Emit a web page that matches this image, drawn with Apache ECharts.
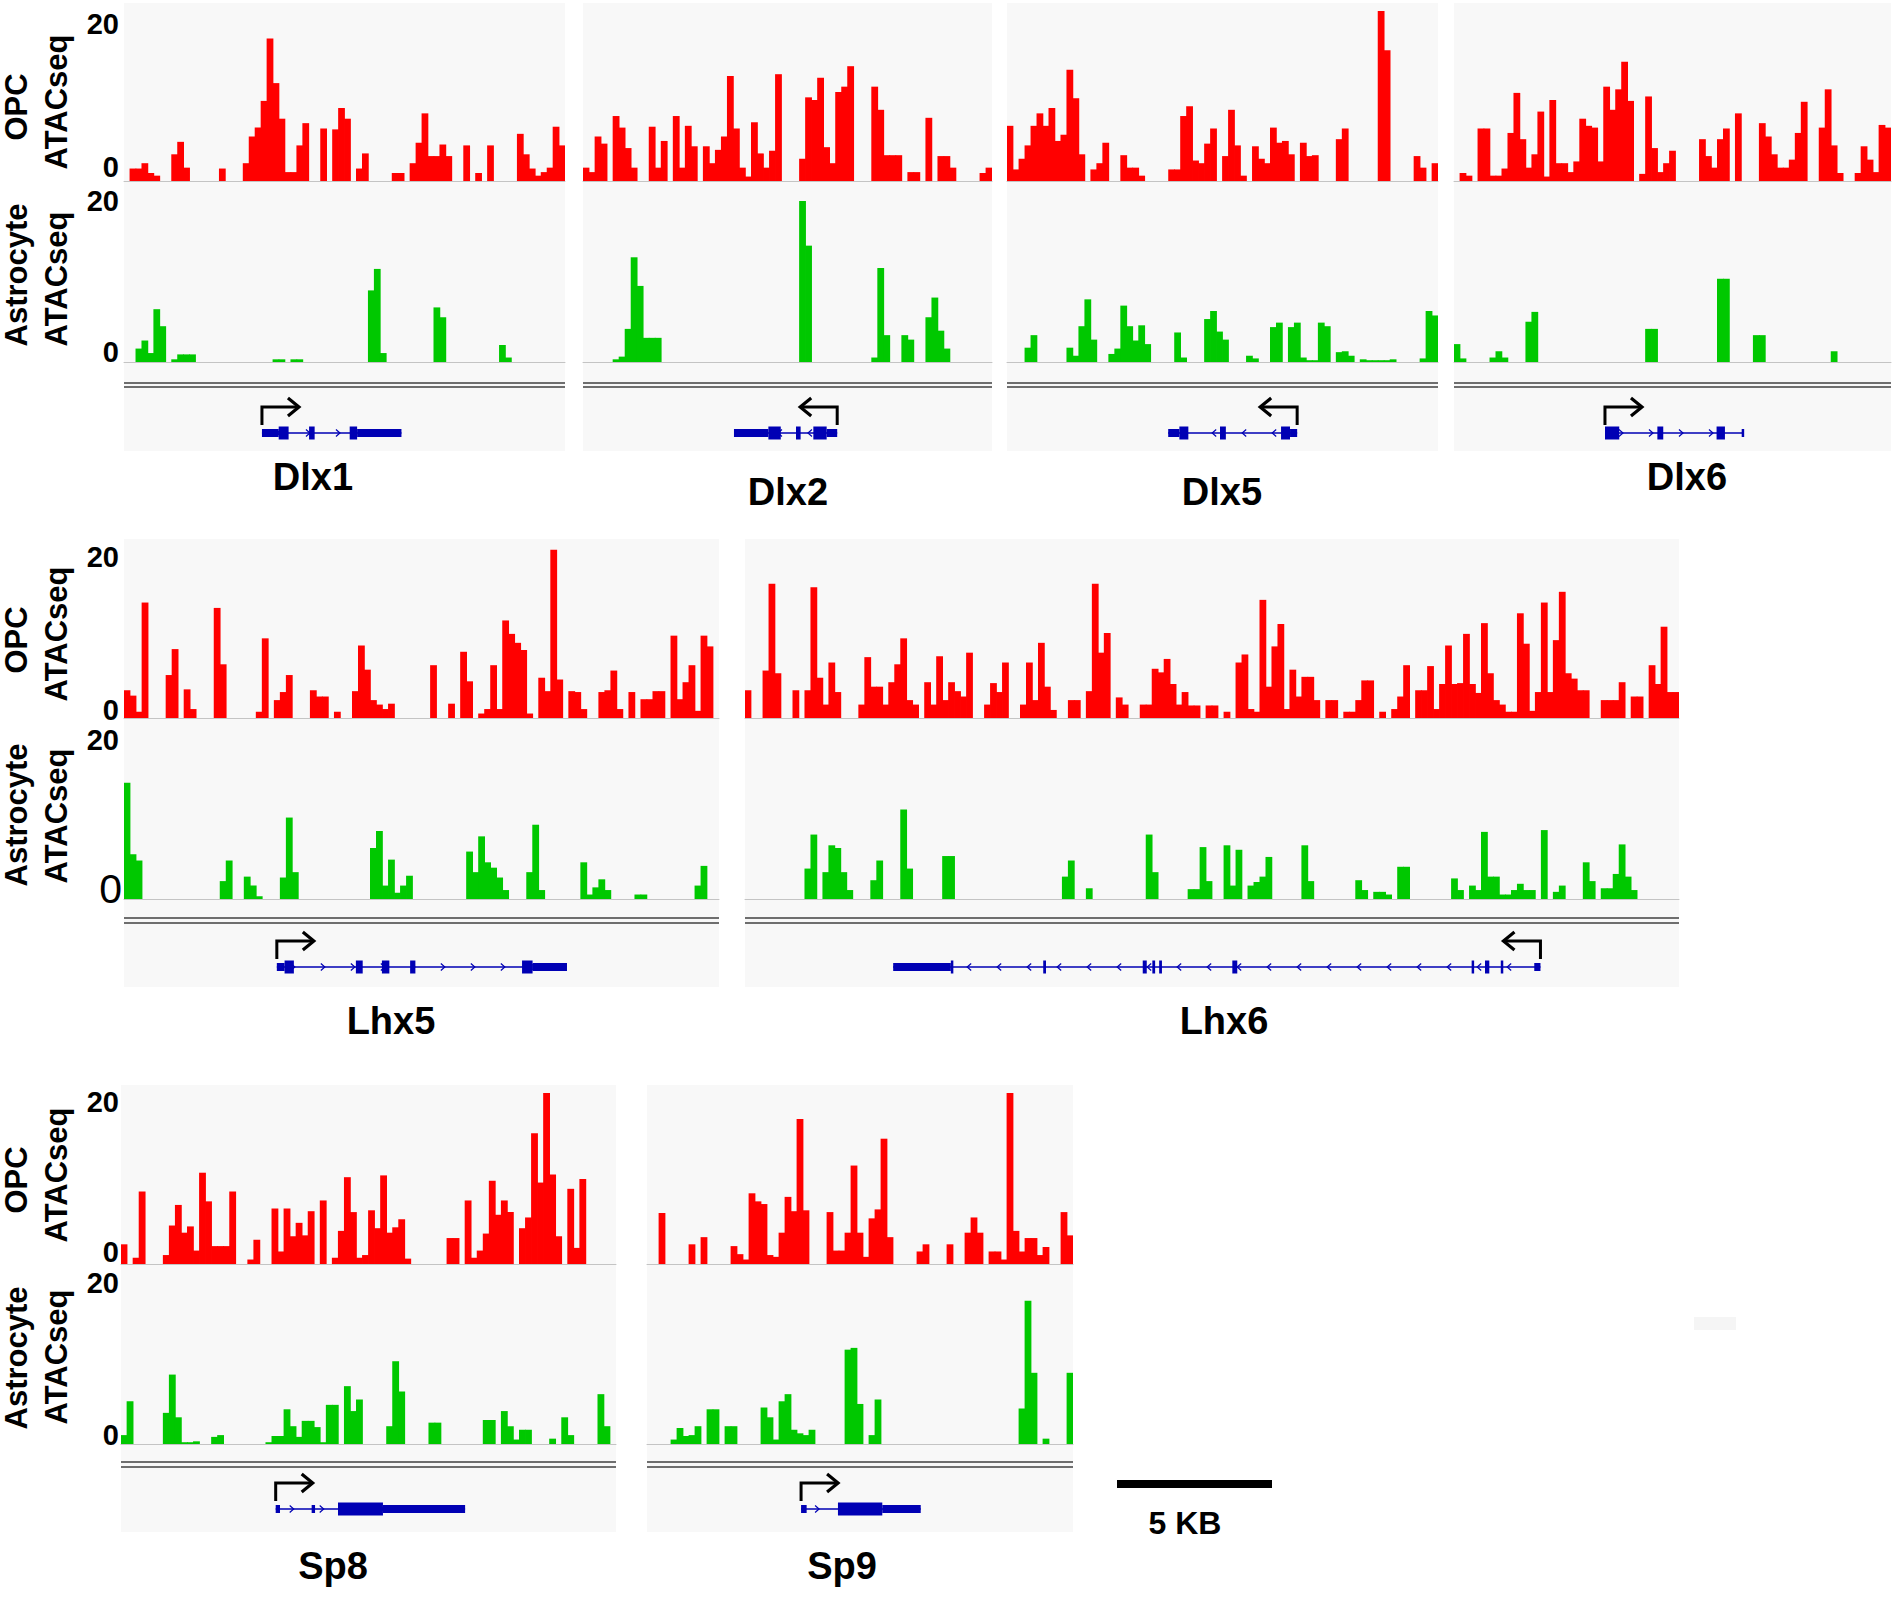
<!DOCTYPE html>
<html><head><meta charset="utf-8">
<script src="https://cdn.jsdelivr.net/npm/echarts@6/dist/echarts.min.js"></script>
<style>html,body{margin:0;padding:0;background:#fff}#c{width:1894px;height:1597px}</style>
</head><body><div id="c"></div>
<script>
// ---------------- DATA ----------------
const geneNames = ['Dlx1','Dlx2','Dlx5','Dlx6','Lhx5','Lhx6','Sp8','Sp9'];
const trackLabelsOPC = ['OPC','ATACseq'];
const trackLabelsAst = ['Astrocyte','ATACseq'];
const yTickLabels = ['20','0'];
const yMax = 20;
const scaleBarKb = 5;
const scaleBarLabel = '5 KB';

const opcDlx1 = [0,1.4,1.4,2,0.9,0.6,0,0,3,4.4, 1.5,0,0,0,0,0,1.4,0,0,0, 2,5,6,9,16,11,7,1,1,4, 6.5,0,0,5.9,0,5.8,8.2,7,0,1.4, 3.1,0,0,0,0,0.9,0.9,0,2,4.3, 7.6,2.8,2.8,4.1,2.8,0,0,4,0,0.9, 0,4,0,0,0,0,5.3,3,1.4,0.6, 1,1.5,6.1,4];
const astDlx1 = [0,0,1.5,2.4,1,5.9,4,0,0.3,0.85, 0.85,0.85,0,0,0,0,0,0,0,0, 0,0,0,0,0,0.3,0.3,0,0.3,0.3, 0,0,0,0,0,0,0,0,0,0, 0,8,10.4,1,0,0,0,0,0,0, 0,0,6.1,5,0,0,0,0,0,0, 0,0,0,1.9,0.5,0,0,0,0,0, 0,0,0,0];

const opcDlx2 = [1.5,1,5,4.2,0,7.3,6,3.7,1.5,0, 0,6.1,1.5,4.5,0,7.3,1.5,6.2,3.9,0, 3.9,2,3.5,5,11.8,5.9,1.5,0.5,6.6,3.1, 1.5,3.4,12,0,0,0,2.5,9.4,9.1,11.6, 3.8,2,10,10.6,12.9,0,0,0,10.6,8, 2.9,2.9,2.9,0,1,1,0,7.1,0,2.8, 2.8,1.5,0,0,0,0,0.9,1.5];
const astDlx2 = [0,0,0,0,0,0.3,0.6,3.7,11.7,8.5, 2.7,2.7,2.7,0,0,0,0,0,0,0, 0,0,0,0,0,0,0,0,0,0, 0,0,0,0,0,0,18,13,0,0, 0,0,0,0,0,0,0,0,0.5,10.5, 3,0,0,3,2.5,0,0,5,7.2,3.5, 1.5,0,0,0,0,0,0,0];

const opcDlx5 = [6.2,1.3,2.5,4,6.2,7.6,6.2,8.2,4.5,5.2, 12.5,9.3,3,0,1.3,2,4.3,0,0,2.9, 1.5,1.5,0.6,0,0,0,0,1.3,1.3,7.3, 8.4,2.3,2,4.2,5.9,0,2.8,8,4,0.6, 0,3.9,2.5,2,6,4.3,4.5,3,0,4.3, 2.8,2.9,0,0,0,4.7,5.9,0,0,0, 0,0,19.1,14.7,0,0,0,0,2.8,1.5, 0,2];
const astDlx5 = [0,0,0,1.6,3,0,0,0,0,0, 1.6,0.7,4,7,2.5,0,0,0.9,1.5,6.3, 4,2.4,4.1,2,0,0,0,0,3.3,0.5, 0,0,0,4.8,5.7,3.4,2.5,0,0,0, 0.7,0.4,0,0,3.9,4.4,0,3.9,4.4,0.5, 0.2,0.2,4.4,4,0,1.1,1.2,0.7,0,0.3, 0.2,0.2,0.2,0.2,0.3,0,0,0,0,0.4, 5.7,5.2];

const opcDlx6 = [0,0.9,0.6,0,5.9,5.9,0.6,0.6,1.4,5.4, 9.9,4.7,1.5,3,7.8,0.5,9.1,2,2,1, 2.2,7,6.2,6,2.2,10.6,8,10.3,13.4,9, 0,0.8,9.5,3.7,1,2,3.4,0,0,0, 0,4.7,2.8,1.5,4.7,5.9,0,7.6,0,0, 0,6.5,5,3,1.5,1.5,2.4,5.4,8.9,0, 0,6,10.3,4,0.9,0,0,0.9,3.9,2.4, 1,6.3,6];
const astDlx6 = [2,0.4,0,0,0,0,0.5,1.2,0.5,0, 0,0,4.5,5.6,0,0,0,0,0,0, 0,0,0,0,0,0,0,0,0,0, 0,0,3.7,3.7,0,0,0,0,0,0, 0,0,0,0,9.3,9.3,0,0,0,0, 3,3,0,0,0,0,0,0,0,0, 0,0,0,1.2,0,0,0,0,0,0, 0,0,0];

const opcLhx5 = [3.1,2.5,0.7,12.9,0,0,0,4.8,7.7,0, 3.2,1,0,0,0,12.3,6,0,0,0, 0,0,0.7,8.9,0,2,2.9,4.8,0,0, 0,3.1,2.4,2.4,0,0.7,0,0,3,8.1, 5.4,2,1.5,1,1.6,0,0,0,0,0, 0,5.9,0,0,1.6,0,7.4,4.1,0,0.5, 1,5.9,1,10.9,9.4,8.4,7.6,0.5,0,4.5, 3,18.8,4.3,0,3,2.9,1,0,0,2.9, 3.1,5.3,1,0,2.9,0,2.1,2.1,3,3, 0,9.2,2.1,4,5.9,0.8,9.2,8,0];
const astLhx5 = [13,5,4.3,0,0,0,0,0,0,0, 0,0,0,0,0,0,2,4.3,0,0, 2.5,1.5,0.3,0,0,0,2.4,9.1,3,0, 0,0,0,0,0,0,0,0,0,0, 0,5.7,7.6,1.5,4.4,0.7,1.5,2.6,0,0, 0,0,0,0,0,0,0,5.3,3,7, 4.1,3.5,2.4,1,0,0,0,3,8.3,1, 0,0,0,0,0,0,4.1,0.5,1.3,2.2, 1,0,0,0,0,0.5,0.5,0,0,0, 0,0,0,0,0,1.5,3.7,0,0];

const opcLhx6 = [3.1,0,0,5.3,15,5,0,0,3.1,0, 3.1,14.6,4.5,1.5,6.2,2.9,0,0,0,1.5, 6.8,3.5,3.5,1.5,4,6,8.9,2,1.5,0, 4,1.5,6.9,2,4,3,2.4,7.3,0,0, 1.5,3.9,2.9,6.2,0,0,1.5,6.2,2,8.4, 3.5,0.9,0,0,2,2,0,3,15,7.3, 9.5,0,2.3,1.5,0,0,1.5,1.5,5.5,5.1, 6.6,3.8,1.5,2.9,1.4,1.4,0,1.4,1.4,0, 0.7,0,6.2,7.1,1,0.7,13.2,3.5,8,10.5, 1,5.4,2.4,4.6,4.6,2,0,2,2,0, 0.7,0.7,2,4.2,4.2,0,0.7,0,1,2.4, 5.9,0,3.1,3.1,5.8,1,3.8,8.1,3.8,3.9, 9.4,3.8,2.8,10.6,5,2,1.5,0.7,0.7,11.7, 8.3,0.8,2.9,12.9,2.9,8.7,14.1,5,4.4,3.1, 3.1,0,0,2,2,2,4,0,2.4,2.4, 0,5.9,3.8,10.2,2.9,2.9];
const astLhx6 = [0,0,0,0,0,0,0,0,0,0, 3.4,7.2,0,3,6,5.7,3,1,0,0, 0,2.1,4.3,0,0,0,10,3.4,0,0, 0,0,0,4.8,4.8,0,0,0,0,0, 0,0,0,0,0,0,0,0,0,0, 0,0,0,2.5,4.3,0,0,1.2,0,0, 0,0,0,0,0,0,0,7.2,3,0, 0,0,0,0,1.1,1.1,5.8,2,0,0, 6,1.5,5.5,0,1.5,1.9,2.5,4.7,0,0, 0,0,0,6,2,0,0,0,0,0, 0,0,2.1,1,0,0.8,0.8,0.5,0,3.6, 3.6,0,0,0,0,0,0,0,2.3,1, 0,1.5,1,7.5,2.5,2.5,0.5,0.5,1,1.7, 1,1,0,7.7,0,0.8,1.5,0,0,0, 4.1,2,0,1.2,1.2,2.8,6.1,2.5,1,0, 0,0,0,0,0,0];

const opcSp8 = [2.2,0,0.7,8.1,0,0,0,1,4.3,6.6, 3.5,4.2,1.5,10.2,7,2,2,2,8.1,0, 0,0.5,2.7,0,0,6.2,1.4,6.2,3.1,4.6, 3.2,5.9,0,7.1,0,0.7,3.7,9.7,5.8,0.7, 1,6,4,9.9,3.5,4.1,5,0.6,0,0, 0,0,0,0,2.9,2.9,0,7.1,0.7,1.5, 3.4,9.3,5.5,7.1,5.8,0,4,5.2,14.6,9.1, 19.1,10,3.1,0,8.4,1.8,9.5,0,0,0, 0,0];
const astSp8 = [1,4.8,0,0,0,0,0,3.5,7.8,3, 0.2,0.2,0.3,0,0,0.8,1,0,0,0, 0,0,0,0,0.2,0.9,0.9,3.9,2,0.8, 2.6,2.6,1.9,0.2,4.4,4.4,0,6.5,3.7,5, 0,0,0,0,2,9.3,5.9,0,0,0, 0,2.4,2.4,0,0,0,0,0,0,0, 2.7,2.7,0,3.7,2,0.5,1.6,1.6,0,0, 0,0.6,0,3,1,0,0,0,0,5.6, 2,0];

const opcSp9 = [0,0,5.7,0,0,0,0,2.2,0,3, 0,0,0,0,2,1.1,0.5,7.9,7,6.7, 1,0.8,3.5,7.5,5.9,16.2,6,0,0,0, 5.8,1.5,1.5,3.5,11,3.5,0.8,5.1,6.1,14, 3,0,0,0,0,1.4,2.2,0,0,0, 2.2,0,0,3.5,5.2,3.5,0,1.4,1.4,0.5, 19.1,3.7,1.4,2.9,2.9,1,1.9,0,0,5.8, 3.2];
const astSp9 = [0,0,0,0,0.5,1.8,0.9,1,2,0, 3.9,3.9,0,2,2,0,0,0,0,4.1, 3,0.5,4.8,5.6,1.6,1.2,1,1.6,0,0, 0,0,0,10.6,10.8,4.5,0,1,5,0, 0,0,0,0,0,0,0,0,0,0, 0,0,0,0,0,0,0,0,0,0, 0,0,4,16.1,8,0,0.6,0,0,0, 8];

// gene models: [start kb, end kb, kind] (kb from left edge of the panel)
const exonsDlx1 = [[4.45,4.99,'utr'],[4.99,5.31,'cds'],[5.97,6.15,'cds'],[7.28,7.52,'cds'],[7.52,8.95,'utr']];
const exonsDlx2 = [[4.87,5.98,'utr'],[5.98,6.38,'cds'],[6.87,7.02,'cds'],[7.43,7.86,'cds'],[7.86,8.2,'utr']];
const exonsDlx5 = [[5.2,5.56,'utr'],[5.56,5.85,'cds'],[6.87,7.06,'cds'],[8.84,9.13,'cds'],[9.13,9.36,'utr']];
const exonsDlx6 = [[4.87,5.33,'cds'],[6.56,6.75,'cds'],[8.47,8.74,'cds'],[9.28,9.35,'utr']];
const exonsLhx5 = [[4.93,5.18,'utr'],[5.18,5.48,'cds'],[7.48,7.7,'cds'],[8.32,8.56,'cds'],[9.23,9.4,'cds'],[12.84,13.18,'cds'],[13.18,14.29,'utr']];
const exonsLhx6 = [[4.78,6.64,'utr'],[6.64,6.7,'cds'],[9.62,9.71,'cds'],[12.83,12.96,'cds'],[13.14,13.23,'cds'],[13.36,13.45,'cds'],[15.72,15.88,'cds'],[23.44,23.52,'cds'],[23.87,24.01,'cds'],[24.38,24.46,'cds'],[25.46,25.66,'utr']];
const exonsSp8 = [[4.99,5.13,'utr'],[6.15,6.26,'utr'],[7.0,8.45,'cds'],[8.45,11.1,'utr']];
const exonsSp9 = [[4.97,5.15,'utr'],[6.16,7.59,'cds'],[7.59,8.83,'utr']];
const strands = {Dlx1:1, Dlx2:-1, Dlx5:-1, Dlx6:1, Lhx5:1, Lhx6:-1, Sp8:1, Sp9:1};

// ---------------- LAYOUT / STYLE ----------------
const PX_PER_KB = 31;
const FONT = '"Liberation Sans", Arial, Helvetica, sans-serif';
const RED = '#ff0000', GREEN = '#00c800', BLUE = '#0000b4', BG = '#f8f8f8';
const rows = [
  {opcTop:3, opcBase:181, astTop:183, astBase:362, dbl:[383,387], exonY:433, bottom:451,
   lab:{opc:[107,102], tick:[24,167], ast:[275,279], astTick:[201,352]}},
  {opcTop:539, opcBase:718, astTop:720, astBase:899, dbl:[918,923], exonY:967, bottom:987,
   lab:{opc:[640,634], tick:[557,710], ast:[815,816], astTick:[740,889]}},
  {opcTop:1085, opcBase:1264, astTop:1266, astBase:1444, dbl:[1462,1467], exonY:1509, bottom:1532,
   lab:{opc:[1180,1175], tick:[1102,1252], ast:[1358,1357], astTick:[1283,1435]}}
];
const panels = [
  {gene:'Dlx1', row:0, left:124, width:441, opc:opcDlx1, ast:astDlx1, exons:exonsDlx1, label:[313,477]},
  {gene:'Dlx2', row:0, left:583, width:409, opc:opcDlx2, ast:astDlx2, exons:exonsDlx2, label:[788,492]},
  {gene:'Dlx5', row:0, left:1007, width:431, opc:opcDlx5, ast:astDlx5, exons:exonsDlx5, label:[1222,492]},
  {gene:'Dlx6', row:0, left:1454, width:437, opc:opcDlx6, ast:astDlx6, exons:exonsDlx6, label:[1687,477]},
  {gene:'Lhx5', row:1, left:124, width:595, opc:opcLhx5, ast:astLhx5, exons:exonsLhx5, label:[391,1021]},
  {gene:'Lhx6', row:1, left:745, width:934, opc:opcLhx6, ast:astLhx6, exons:exonsLhx6, label:[1224,1021]},
  {gene:'Sp8', row:2, left:121, width:495, opc:opcSp8, ast:astSp8, exons:exonsSp8, label:[333,1566]},
  {gene:'Sp9', row:2, left:647, width:426, opc:opcSp9, ast:astSp9, exons:exonsSp9, label:[842,1566]}
];

const grid = [], xAxis = [], yAxis = [], series = [], graphic = [];

function addText(text, x, y, font, rot, align) {
  graphic.push({type:'text', x, y, rotation: rot || 0, silent:true, z:10,
    style:{text, font, fill:'#000', align: align || 'center', verticalAlign:'middle'}});
}

function addTrack(left, width, top, height, values, color) {
  const gi = grid.length;
  grid.push({left, width, top, height, show:false});
  xAxis.push({gridIndex:gi, type:'category', data: values.map((_, i) => i), boundaryGap:true,
    axisLine:{show:true, lineStyle:{color:'#c4c4c4', width:1}}, axisTick:{show:false},
    axisLabel:{show:false}, splitLine:{show:false}});
  yAxis.push({gridIndex:gi, type:'value', min:0, max:yMax, show:false, splitLine:{show:false}});
  series.push({type:'bar', xAxisIndex:gi, yAxisIndex:gi, data:values,
    barWidth: width / values.length + 0.8,
    itemStyle:{color}, silent:true, animation:false});
}

function renderGene(params, api) {
  const s = api.value(0), e = api.value(1), k = api.value(2), dir = api.value(3);
  const a = api.coord([s, 0]), b = api.coord([e, 0]);
  const y = a[1];
  if (k === 0) {
    const children = [{type:'line', shape:{x1:a[0], y1:y, x2:b[0], y2:y}, style:{stroke:BLUE, lineWidth:1.3}}];
    for (let x = a[0] + 16; x < b[0] - 6; x += 30) {
      children.push({type:'polyline', shape:{points:[[x - 2*dir, y - 3.5], [x + 2*dir, y], [x - 2*dir, y + 3.5]]},
        style:{stroke:BLUE, lineWidth:1.2, fill:null}});
    }
    return {type:'group', children};
  }
  if (k === 1 || k === 2) {
    const h = k === 2 ? 13 : 8;
    return {type:'rect', shape:{x:a[0], y:y - h/2, width:Math.max(b[0] - a[0], 2.5), height:h}, style:{fill:BLUE}};
  }
  const x = a[0], ay = y - 26, tip = x + dir * 37;
  return {type:'group', children:[
    {type:'polyline', shape:{points:[[x, y - 8], [x, ay], [tip, ay]]}, style:{stroke:'#000', lineWidth:3, fill:null}},
    {type:'polyline', shape:{points:[[tip - dir*11, ay - 9], [tip, ay], [tip - dir*11, ay + 9]]}, style:{stroke:'#000', lineWidth:3.2, fill:null}}
  ]};
}

panels.forEach(p => {
  const R = rows[p.row];
  const strand = strands[p.gene];
  graphic.push({type:'rect', z:-10, silent:true,
    shape:{x:p.left, y:R.opcTop, width:p.width, height:R.bottom - R.opcTop}, style:{fill:BG}});
  R.dbl.forEach(y => graphic.push({type:'line', z:-5, silent:true,
    shape:{x1:p.left, y1:y, x2:p.left + p.width, y2:y}, style:{stroke:'#6e6e6e', lineWidth:2}}));
  addTrack(p.left, p.width, R.opcTop, R.opcBase - R.opcTop, p.opc, RED);
  addTrack(p.left, p.width, R.astTop, R.astBase - R.astTop, p.ast, GREEN);
  const gi = grid.length;
  grid.push({left:p.left, width:p.width, top:R.exonY - 20, height:40, show:false});
  xAxis.push({gridIndex:gi, type:'value', min:0, max:p.width / PX_PER_KB, show:false});
  yAxis.push({gridIndex:gi, type:'value', min:-1, max:1, show:false});
  const gs = Math.min(...p.exons.map(e => e[0])), ge = Math.max(...p.exons.map(e => e[1]));
  const tss = strand > 0 ? gs : ge;
  const data = [[gs, ge, 0, strand]];
  p.exons.forEach(e => data.push([e[0], e[1], e[2] === 'cds' ? 2 : 1, strand]));
  data.push([tss, tss, 3, strand]);
  series.push({type:'custom', xAxisIndex:gi, yAxisIndex:gi, renderItem:renderGene, data,
    encode:{x:[0, 1]}, silent:true, animation:false, clip:false});
  addText(p.gene, p.label[0], p.label[1], 'bold 38px ' + FONT);
});

// row axis labels
rows.forEach((R, ri) => {
  const L = R.lab;
  const vf = 'bold 31px ' + FONT;
  addText(trackLabelsOPC[0], 16, L.opc[0], vf, Math.PI/2);
  addText(trackLabelsOPC[1], 56, L.opc[1], vf, Math.PI/2);
  addText(trackLabelsAst[0], 16, L.ast[0], vf, Math.PI/2);
  addText(trackLabelsAst[1], 56, L.ast[1], vf, Math.PI/2);
  const tf = 'bold 29px ' + FONT;
  addText(yTickLabels[0], 119, L.tick[0], tf, 0, 'right');
  addText(yTickLabels[1], 119, L.tick[1], tf, 0, 'right');
  addText(yTickLabels[0], 119, L.astTick[0], tf, 0, 'right');
  if (ri === 1) addText(yTickLabels[1], 122, L.astTick[1], 'normal 41px ' + FONT, 0, 'right');
  else addText(yTickLabels[1], 119, L.astTick[1], tf, 0, 'right');
});

// scale bar
{
  const gi = grid.length;
  grid.push({left:1117, width:scaleBarKb * PX_PER_KB, top:1477, height:14, show:false});
  xAxis.push({gridIndex:gi, type:'value', min:0, max:scaleBarKb, show:false});
  yAxis.push({gridIndex:gi, type:'value', min:-1, max:1, show:false});
  series.push({type:'line', xAxisIndex:gi, yAxisIndex:gi, data:[[0, 0], [scaleBarKb, 0]], symbol:'none',
    lineStyle:{color:'#000', width:8, cap:'butt'}, silent:true, animation:false});
  addText(scaleBarLabel, 1185, 1523, 'bold 32px ' + FONT);
}
graphic.push({type:'rect', z:-10, silent:true, shape:{x:1694, y:1317, width:42, height:13}, style:{fill:'#f5f5f5'}});

const chart = echarts.init(document.getElementById('c'), null, {renderer:'svg'});
chart.setOption({
  backgroundColor:'#ffffff',
  animation:false,
  textStyle:{fontFamily:FONT},
  grid, xAxis, yAxis, series, graphic
});
</script>
</body></html>
